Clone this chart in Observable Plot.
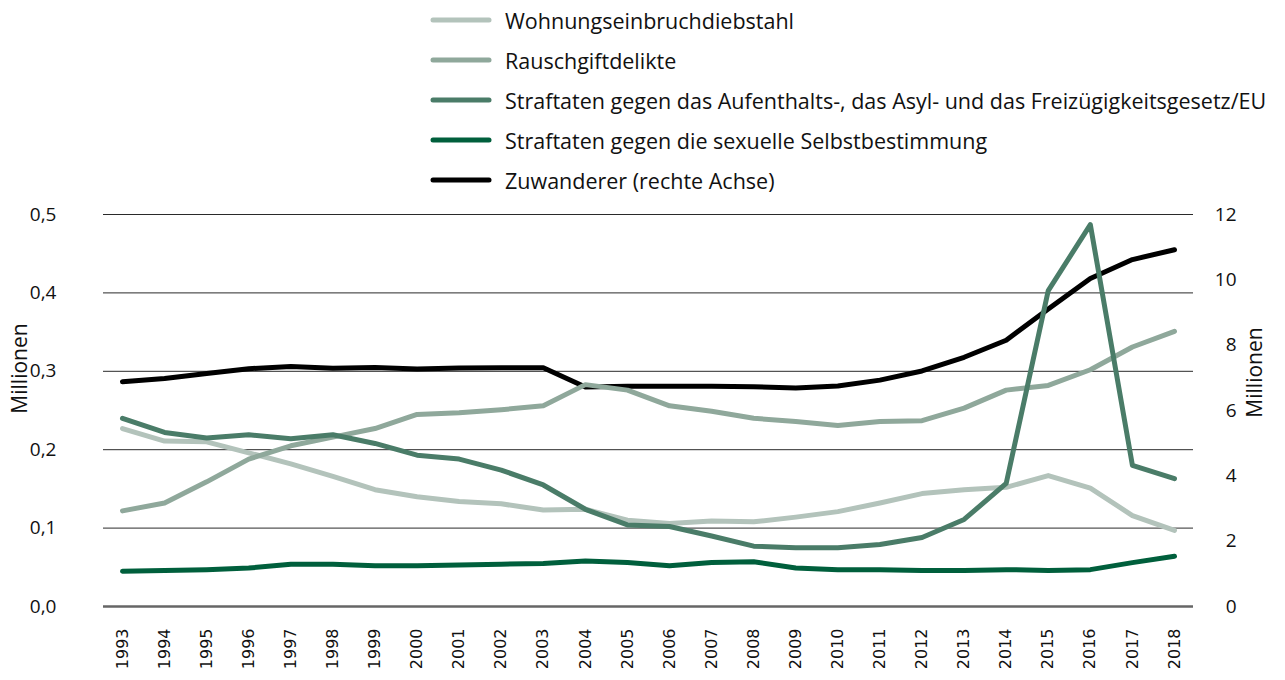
<!DOCTYPE html>
<html>
<head>
<meta charset="utf-8">
<script src="https://cdn.jsdelivr.net/npm/d3@7"></script>
<script src="https://cdn.jsdelivr.net/npm/@observablehq/plot@0.6"></script>
<style>
  html, body { margin: 0; padding: 0; background: #fff; }
  #legend { position: relative; height: 200px; width: 1285px; font-family: "Open Sans", "Noto Sans", sans-serif; font-size: 21.5px; color: #111; }
  .row { position: absolute; left: 430px; height: 40px; display: flex; align-items: center; white-space: nowrap; }
  .row svg { margin-right: 13px; }
</style>
</head>
<body>
<div id="legend"></div>
<div id="chart"></div>
<script>
const years = [1993,1994,1995,1996,1997,1998,1999,2000,2001,2002,2003,2004,2005,2006,2007,2008,2009,2010,2011,2012,2013,2014,2015,2016,2017,2018];

const wohnung = [0.227,0.211,0.210,0.196,0.182,0.166,0.149,0.140,0.134,0.131,0.123,0.124,0.110,0.106,0.109,0.108,0.114,0.121,0.132,0.144,0.149,0.152,0.167,0.151,0.116,0.097];
const rausch = [0.122,0.132,0.159,0.188,0.205,0.216,0.227,0.245,0.247,0.251,0.256,0.283,0.276,0.256,0.249,0.240,0.236,0.231,0.236,0.237,0.253,0.276,0.282,0.302,0.331,0.351];
const aufenthalt = [0.240,0.222,0.215,0.219,0.214,0.219,0.208,0.193,0.188,0.174,0.155,0.124,0.104,0.102,0.090,0.077,0.075,0.075,0.079,0.088,0.111,0.157,0.403,0.487,0.180,0.163];
const sexuell = [0.045,0.046,0.047,0.049,0.054,0.054,0.052,0.052,0.053,0.054,0.055,0.058,0.056,0.052,0.056,0.057,0.049,0.047,0.047,0.046,0.046,0.047,0.046,0.047,0.056,0.064];
const zuwanderer = [6.88,6.98,7.13,7.28,7.35,7.29,7.32,7.27,7.30,7.31,7.31,6.72,6.74,6.74,6.74,6.73,6.69,6.75,6.93,7.21,7.63,8.15,9.11,10.04,10.62,10.92];

const leftTicks = [0, 0.1, 0.2, 0.3, 0.4, 0.5];
const rightTicks = [0, 2, 4, 6, 8, 10, 12];
const leftMax = 0.5, rightMax = 12;

const series = [
  {name: "Wohnungseinbruchdiebstahl", values: wohnung, color: "#b3c3bb", axis: "left"},
  {name: "Rauschgiftdelikte", values: rausch, color: "#8fa89b", axis: "left"},
  {name: "Straftaten gegen das Aufenthalts-, das Asyl- und das Freizügigkeitsgesetz/EU", values: aufenthalt, color: "#4a7c68", axis: "left"},
  {name: "Straftaten gegen die sexuelle Selbstbestimmung", values: sexuell, color: "#005f3c", axis: "left"},
  {name: "Zuwanderer (rechte Achse)", values: zuwanderer, color: "#000000", axis: "right"}
];

// legend
const legend = document.getElementById("legend");
series.forEach((s, i) => {
  const row = document.createElement("div");
  row.className = "row";
  row.style.top = (i * 40) + "px";
  row.innerHTML = `<svg width="62" height="10"><line x1="3" y1="5" x2="59" y2="5" stroke="${s.color}" stroke-width="5" stroke-linecap="round"/></svg><span>${s.name}</span>`;
  legend.appendChild(row);
});

const toLeft = v => v * leftMax / rightMax;
const rows = [];
series.forEach(s => s.values.forEach((v, i) => rows.push({year: years[i], value: s.axis === "right" ? toLeft(v) : v, name: s.name})));

const drawOrder = [4, 3, 0, 1, 2];
const font = "'Open Sans', 'Noto Sans', sans-serif";

const chart = Plot.plot({
  width: 1285,
  height: 480,
  marginTop: 14,
  marginBottom: 74,
  marginLeft: 103,
  marginRight: 92,
  style: {fontFamily: font, background: "#fff", color: "#111"},
  x: {type: "linear", domain: [years[0], years[years.length - 1]], inset: 19},
  y: {domain: [0, leftMax]},
  marks: [
    Plot.ruleY(leftTicks.filter(d => d > 0), {stroke: "#2a2a2a", strokeWidth: 1}),
    Plot.ruleY([0], {stroke: "#666", strokeWidth: 2.5}),
    ...drawOrder.map(k => Plot.line(rows.filter(r => r.name === series[k].name), {
      x: "year", y: "value", stroke: series[k].color, strokeWidth: 5,
      strokeLinecap: "round", strokeLinejoin: "round"
    })),
    Plot.axisX(years, {tickFormat: d => String(d), tickRotate: -90, tickSize: 0, tickPadding: 22,
      fontSize: 16, fontFamily: "DejaVu Sans", label: null}),
    Plot.axisY(leftTicks, {anchor: "left", tickFormat: d => d.toFixed(1).replace(".", ","), tickSize: 0,
      tickPadding: 47, fontSize: 19, label: null}),
    Plot.axisY(rightTicks.map(toLeft), {anchor: "right", tickFormat: d => String(Math.round(d * rightMax / leftMax)),
      tickSize: 0, tickPadding: 43, textAnchor: "end", fontSize: 19, label: null}),
    Plot.text(["Millionen"], {frameAnchor: "left", textAnchor: "middle", dx: -83, dy: -42, rotate: -90, fontSize: 21, fill: "#111"}),
    Plot.text(["Millionen"], {frameAnchor: "right", textAnchor: "middle", dx: 62, dy: -38, rotate: -90, fontSize: 21, fill: "#111"})
  ]
});
document.getElementById("chart").appendChild(chart);
</script>
</body>
</html>
